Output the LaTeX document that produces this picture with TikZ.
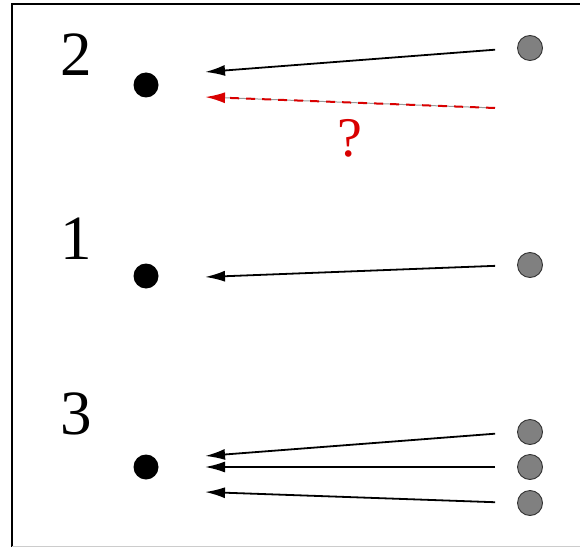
\documentclass[tikz,border=0pt]{standalone}
\usepackage{fontspec}
\setmainfont{Liberation Serif}
\usepackage{tikz}
\usetikzlibrary{arrows.meta}

\begin{document}
\begin{tikzpicture}[
  x=1pt, y=1pt,
  srcDot/.style={circle, draw=black!80, fill=black!50, line width=0.9pt, minimum size=25pt, inner sep=0pt},
  tgtDot/.style={circle, fill=black, minimum size=25pt, inner sep=0pt},
  numLabel/.style={font=\fontsize{63}{70}\selectfont, inner sep=0pt},
  linkLine/.style={draw, line width=1.8pt, -{Latex[length=20pt, width=11pt]}, shorten <=22pt},
  askLine/.style={draw=red!85!black, line width=2pt, dash pattern=on 9pt off 7pt, -{Latex[length=20pt, width=11pt]}}
]
  \useasboundingbox (0,0) rectangle (580,547);
  % frame
  \draw [line width=2.3pt] (12,0) -- (12,543) -- (580,543);
  \draw [black!20, line width=1pt] (12,1) -- (580,1);

  % targets
  \node [tgtDot] (b2) at (146,462) {};
  \node [tgtDot] (b1) at (146,271) {};
  \node [tgtDot] (b3) at (146,80) {};
  \node [numLabel] (n2) at (76,492) {2};
  \node [numLabel] (n1) at (76,308) {1};
  \node [numLabel] (n3) at (76,133) {3};

  % sources
  \node [srcDot] (g2) at (530,499) {};
  \node [srcDot] (g1) at (530,282) {};
  \node [srcDot] (g3a) at (530,115) {};
  \node [srcDot] (g3b) at (530,80) {};
  \node [srcDot] (g3c) at (530,44) {};

  \coordinate (e2) at (205,475);
  \coordinate (e2q) at (205,450);
  \coordinate (s2q) at (495,439);
  \coordinate (e1) at (205,270);
  \coordinate (e3a) at (205,91);
  \coordinate (e3b) at (205,80);
  \coordinate (e3c) at (205,55);

  \draw [linkLine] (g2.west) -- (e2);
  \draw [black!40, line width=1pt, shorten >=15pt] (s2q) -- (e2q);
  \draw [askLine] (s2q) -- (e2q);
  \node [text=red!85!black, font=\fontsize{56}{60}\selectfont, inner sep=0pt] (q) at (350,409) {?};

  \draw [linkLine] (g1.west) -- (e1);
  \draw [linkLine] (g3a.west) -- (e3a);
  \draw [linkLine] (g3b.west) -- (e3b);
  \draw [linkLine] (g3c.west) -- (e3c);
\end{tikzpicture}
\end{document}
